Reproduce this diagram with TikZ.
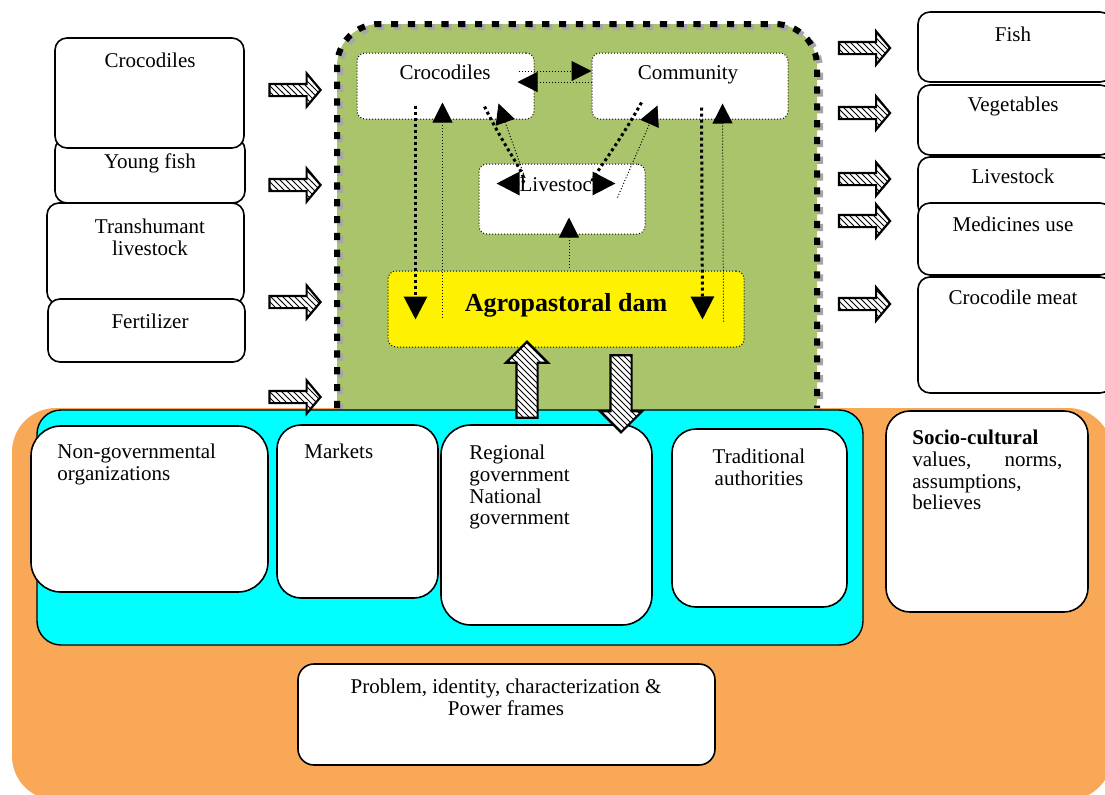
\documentclass[tikz,border=0pt]{standalone}
\usepackage{fontspec}
\setmainfont{Liberation Serif}
\usepackage{tikz}
\usetikzlibrary{arrows.meta,positioning,shapes,calc,fit,patterns}

\definecolor{orangebg}{RGB}{249,168,88}
\definecolor{greenbg}{RGB}{169,196,107}
\definecolor{cyanbg}{RGB}{0,255,255}

\begin{document}
\begin{tikzpicture}[
    x=0.5pt, y=-0.5pt,
    font=\fontsize{10.5}{10.8}\selectfont,
    sbox/.style={rectangle, draw, line width=0.8pt, fill=white, rounded corners=6pt, inner sep=0pt},
    obox/.style={sbox, rounded corners=12pt},
    ibox/.style={rectangle, draw, densely dotted, line width=0.5pt, fill=white, rounded corners=4pt, inner sep=0pt},
    lbl/.style={inner sep=0pt, align=center, anchor=north},
    flow/.style={single arrow, draw, line width=1.1pt, inner sep=2.5pt, preaction={fill=white}, pattern=north west lines, single arrow head extend=5.25pt, single arrow tip angle=100, minimum height=25.5pt, minimum width=15.5pt},
    vflow/.style={flow, inner sep=4.75pt, single arrow tip angle=90, minimum width=20pt},
    dotlink/.style={densely dotted, line width=0.5pt, -{Triangle[length=10pt,width=10pt]}},
    boldlink/.style={line width=1.5pt, dash pattern=on 1.5pt off 1.5pt, -{Triangle[length=11.5pt,width=11.5pt]}},
    rim/.style={line width=3pt, dash pattern=on 3.6pt off 4.8pt, rounded corners=21pt},
]
    \useasboundingbox (0,0) rectangle (1105,794);

    % background panels
    \fill[orangebg, rounded corners=22pt] (12,408) rectangle (1112,800);
    \fill[greenbg, rounded corners=21pt] (337,24) rectangle (817,440);
    \draw[rim, black!35, shift={(3,3)}] (337,408) -- (337,24) -- (817,24) -- (817,408);
    \draw[rim] (337,408) -- (337,24) -- (817,24) -- (817,408);
    \draw[fill=cyanbg, line width=0.7pt, rounded corners=12pt] (37,410) rectangle (863,645);

    % inputs
    \node[sbox, fit={(55,138) (245,203)}] (lfish) {};
    \node[sbox, fit={(55,38) (244,148)}] (lcroc) {};
    \node[sbox, fit={(47,203) (244,304)}] (ltrans) {};
    \node[sbox, fit={(48,299) (245,362)}] (lfert) {};
    \node[lbl] (lcroct) at (150,53) {Crocodiles};
    \node[lbl] (lfisht) at (150,153) {Young fish};
    \node[lbl] (ltranst) at (150,219) {Transhumant\\livestock};
    \node[lbl] (lfertt) at (150,314) {Fertilizer};

    \node[flow] (in1) at (292.5,90) {};
    \node[flow] (in2) at (292.5,185) {};
    \node[flow] (in3) at (292.5,302) {};
    \node[flow] (in4) at (292.5,397) {};

    % outputs
    \node[sbox, fit={(918,12) (1112,82)}] (rfish) {};
    \node[sbox, fit={(918,85) (1112,155)}] (rveg) {};
    \node[sbox, fit={(918,157) (1112,218)}] (rlive) {};
    \node[sbox, fit={(918,203) (1112,275)}] (rmed) {};
    \node[sbox, fit={(918,277) (1112,393)}] (rmeat) {};
    \node[lbl] (rfisht) at (1013,27) {Fish};
    \node[lbl] (rvegt) at (1013,97) {Vegetables};
    \node[lbl] (rlivet) at (1013,169) {Livestock};
    \node[lbl] (rmedt) at (1013,217) {Medicines use};
    \node[lbl] (rmeatt) at (1013,290) {Crocodile meat};

    \node[flow] (out1) at (862,48) {};
    \node[flow] (out2) at (862,113) {};
    \node[flow] (out3) at (862,179) {};
    \node[flow] (out4) at (862,221) {};
    \node[flow] (out5) at (862,304) {};

    % the dam system
    \node[ibox, fit={(357,53) (534,119)}] (croc) {};
    \node[ibox, fit={(592,53) (788,119)}] (comm) {};
    \node[ibox, fit={(479,164) (645,234)}] (live) {};
    \node[ibox, fill=yellow, fit={(388,271) (744,347)}] (dam) {};
    \node[lbl] (croct) at (445,65) {Crocodiles};
    \node[lbl] (commt) at (688,65) {Community};
    \node[lbl] (livet) at (561,177) {Livestock};
    \node[lbl, font=\fontsize{13}{15}\selectfont\bfseries] (damt) at (566,293) {Agropastoral dam};

    % institutions
    \node[obox, rounded corners=15pt, fit={(31,426) (268,592)}] (ngo) {};
    \node[obox, fit={(277,425) (438,598)}] (mkt) {};
    \node[obox, rounded corners=15pt, fit={(441,425) (652,625)}] (gov) {};
    \node[obox, fit={(672,429) (847,607)}] (trad) {};
    \node[obox, fit={(886,411) (1088,612)}] (socio) {};
    \node[obox, rounded corners=8pt, fit={(298,664) (715,765)}] (frames) {};
    \node[lbl, anchor=north west, align=left] (ngot) at (57,444) {Non-governmental\\organizations};
    \node[lbl, anchor=north west] (mktt) at (304,444) {Markets};
    \node[lbl, anchor=north west, align=left] (govt) at (469,445) {Regional\\government\\National\\government};
    \node[lbl] (tradt) at (759,449) {Traditional\\authorities};
    \node[lbl, anchor=north west, text width=75pt, align=left] (sociot) at (912,430) {\textbf{Socio-cultural}\\values,\hfill norms,\\assumptions,\\believes};
    \node[lbl] (framest) at (506,679) {Problem, identity, characterization \&\\Power frames};

    \node[vflow, shape border rotate=90, minimum height=38pt] (up) at (527,385) {};
    \node[vflow, shape border rotate=270, minimum height=38.5pt] (down) at (621,388.5) {};

    % links inside the dam system
    \draw[dotlink] ($(croc.east)+(-16,-15)$) -- ($(comm.west)+(0,-15)$);
    \draw[dotlink] ($(comm.west)+(0,-4)$) -- ($(croc.east)+(-17,-4)$);
    \draw[boldlink] ($(croc.south west)+(59,-14)$) -- ($(dam.north west)+(28,49)$);
    \draw[dotlink] ($(dam.north west)+(55,47)$) -- ($(croc.south west)+(86,-17)$);
    \draw[boldlink] ($(croc.south east)+(-50,-13)$) .. controls ($(live.north west)+(32,-4)$) and ($(live.north west)+(56,20)$) .. ($(live.north west)+(18,20)$);
    \draw[dotlink] ($(live.north west)+(46,13)$) -- ($(croc.south east)+(-36,-16)$);
    \draw[boldlink] ($(comm.south west)+(50,-17)$) .. controls ($(live.north east)+(-36,-4)$) and ($(live.north east)+(-60,20)$) .. ($(live.north east)+(-30,20)$);
    \draw[dotlink] ($(live.north east)+(-28,34)$) -- ($(comm.south west)+(66,-14)$);
    \draw[boldlink] ($(comm.south west)+(110,-12)$) -- ($(dam.north east)+(-42,49)$);
    \draw[dotlink] ($(dam.north east)+(-21,51)$) -- ($(comm.south west)+(131,-16)$);
    \draw[dotlink] ($(dam.north)+(3,-3)$) -- ($(live.south)+(7,-17)$);
\end{tikzpicture}
\end{document}
